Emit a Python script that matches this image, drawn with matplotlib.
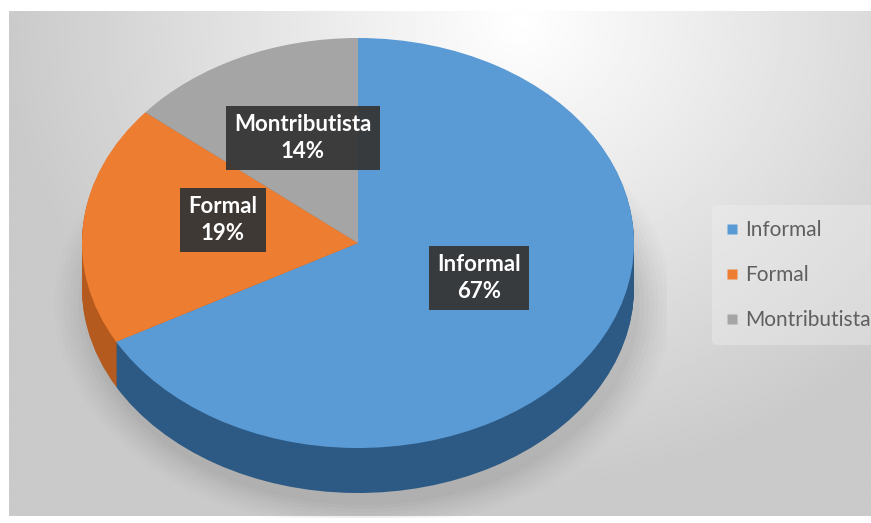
import numpy as np
import matplotlib
matplotlib.use('Agg')
import matplotlib.pyplot as plt
from matplotlib.lines import Line2D
from matplotlib.patches import Ellipse

categories = ['Informal', 'Formal', 'Montributista']
shares = [67, 19, 14]
top_colors = ['#5b9bd5', '#ed7d31', '#a5a5a5']
side_colors = ['#2d5a84', '#b55a1e', '#7a7a7a']

W, H = 871, 523
fig = plt.figure(figsize=(W / 100, H / 100), dpi=100)
fig.patch.set_facecolor('white')

# ---- background gradient (chart area) ----
bx0, by0, bx1, by1 = 9, 11, 871, 516
bg = fig.add_axes([bx0 / W, (H - by1) / H, (bx1 - bx0) / W, (by1 - by0) / H])
yy, xx = np.mgrid[0:200, 0:400]
px = bx0 + xx / 399 * (bx1 - bx0)
py = by0 + yy / 199 * (by1 - by0)
dist = np.sqrt(((px - 520) / 520) ** 2 + ((py - 20) / 470) ** 2)
val = np.clip(1.0 - 0.21 * dist, 0.79, 1.0)
bg.imshow(val, cmap='gray', vmin=0, vmax=1, aspect='auto', interpolation='bilinear',
          extent=[0, 1, 0, 1], origin='upper')
bg.set_xlim(0, 1)
bg.set_ylim(0, 1)
bg.axis('off')

# ---- 3D-looking pie ----
cx, cy, rx, ry, depth = 358, 243, 276, 205, 45
m = 1.12
dd = depth / ry
ax_left = cx - m * rx
ax_top = cy - m * ry
ax_bottom = cy + (m + dd) * ry
ax = fig.add_axes([ax_left / W, (H - ax_bottom) / H, 2 * m * rx / W, (ax_bottom - ax_top) / H])

# soft shadow
for k, a in zip(np.linspace(1.12, 1.0, 8), np.linspace(0.02, 0.05, 8)):
    ax.add_patch(Ellipse((0.02, -dd - 0.08), 2 * k, 2 * k * 0.98, facecolor='#707070',
                         edgecolor='none', alpha=a, zorder=0))

# side (extrusion)
for off in np.linspace(dd, 0.004, 40):
    ax.pie(shares, colors=side_colors, startangle=90, counterclock=False,
           center=(0, -off), wedgeprops=dict(linewidth=0, antialiased=True))

# top face
wedges, _ = ax.pie(shares, colors=top_colors, startangle=90, counterclock=False,
                   wedgeprops=dict(linewidth=0))
ax.set_xlim(-m, m)
ax.set_ylim(-m - dd, m)
ax.set_aspect('auto')
ax.axis('off')

# ---- data labels ----
label_pos = [(479, 278), (223, 220), (303, 138)]
for cat, v, (lx, ly) in zip(categories, shares, label_pos):
    fig.text(lx / W, 1 - ly / H, f'{cat}\n{v}%', ha='center', va='center',
             fontsize=16, fontweight='bold', color='white', family=['Lato', 'DejaVu Sans'],
             linespacing=1.3,
             bbox=dict(boxstyle='square,pad=0.38', facecolor='#363636', edgecolor='none',
                       alpha=0.95))

# ---- legend ----
handles = [Line2D([], [], marker='s', linestyle='none', markersize=7,
                  markerfacecolor=c, markeredgecolor='none') for c in top_colors]
leg = fig.legend(handles, categories, loc='center left',
                 bbox_to_anchor=(712 / W, 1 - 275 / H), frameon=True,
                 prop=dict(family=['Lato', 'DejaVu Sans'], size=15, weight='normal'),
                 labelspacing=1.2, handlelength=0.55, handletextpad=0.35,
                 borderpad=0.7, borderaxespad=0)
leg.get_frame().set_facecolor('#f3f3f3')
leg.get_frame().set_edgecolor('none')
leg.get_frame().set_alpha(0.35)
for t in leg.get_texts():
    t.set_color('#5f5f5f')

fig.savefig('out.png', dpi=100, facecolor=fig.get_facecolor())
